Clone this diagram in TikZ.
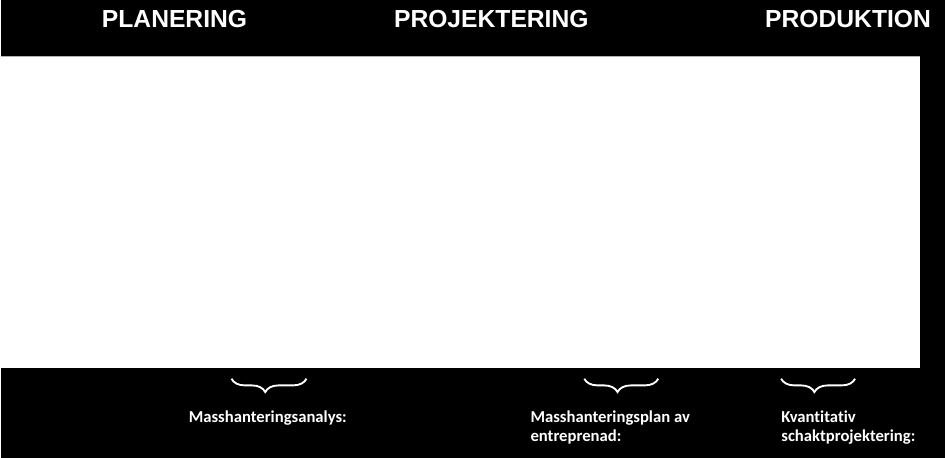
\documentclass[tikz,border=0pt]{standalone}
\usepackage{fontspec}
\setmainfont{Liberation Sans}
\newfontfamily\calibri[Ligatures=NoCommon]{Carlito}
\usetikzlibrary{decorations.pathreplacing}
\tikzset{
  head/.style={anchor=base, text=white, inner sep=0pt, font=\fontsize{18.5}{20}\selectfont\bfseries},
  lbl/.style={anchor=north west, text=white, inner sep=0pt, align=left, font=\calibri\fontsize{12.5}{13.8}\selectfont\bfseries},
  brc/.style={white, line width=1.4pt, decorate, decoration={brace, mirror, amplitude=10pt, aspect=0.45}}
}
\begin{document}
\begin{tikzpicture}[x=0.75pt,y=-0.75pt]
				\fill[black] (0,0) rectangle (945,458);
				\fill[white] (0,56) rectangle (920,368);
				\draw[gray!60, line width=1pt] (0,56.5) -- (920,56.5);

				\node[head] (A) at (174,28)  {PLANERING};
				\node[head] (B) at (491,28)  {PROJEKTERING};
				\node[head] (C) at (848,28)  {PRODUKTION};

				\coordinate (D1) at (231,379);
				\coordinate (D2) at (306,379);
				\coordinate (E1) at (584,379);
				\coordinate (E2) at (658,379);
				\coordinate (F1) at (781,379);
				\coordinate (F2) at (855,379);

				\draw[brc] (D1) -- (D2);
				\draw[brc] (E1) -- (E2);
				\draw[brc] (F1) -- (F2);

				\node[lbl] (D) at (188,411) {Masshanteringsanalys:};
				\node[lbl] (E) at (530,411) {Masshanteringsplan av\\entreprenad:};
				\node[lbl] (F) at (781,411) {Kvantitativ\\schaktprojektering:};
\end{tikzpicture}
\end{document}
